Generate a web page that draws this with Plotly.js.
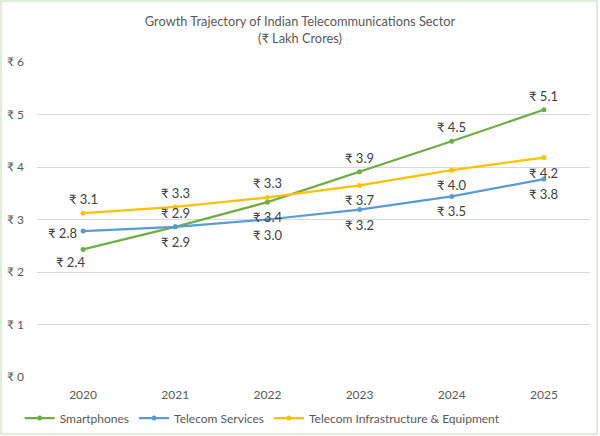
<!DOCTYPE html>
<html>
<head>
<meta charset="utf-8">
<script src="https://cdn.plot.ly/plotly-3.0.1.min.js"></script>
<style>html,body{margin:0;padding:0;background:#fff;}#chart{width:600px;height:436px;}</style>
</head>
<body>
<div id="chart"></div>
<script>
// ---- data ----
const years = ["2020", "2021", "2022", "2023", "2024", "2025"];
const smartphones = [2.43, 2.86, 3.33, 3.91, 4.49, 5.09];
const telecomServices = [2.78, 2.86, 3.00, 3.19, 3.44, 3.77];
const telecomInfra = [3.12, 3.24, 3.42, 3.65, 3.94, 4.18];
const smartphonesLabels = ["₹ 2.4", "₹ 2.9", "₹ 3.4", "₹ 3.9", "₹ 4.5", "₹ 5.1"];
const servicesLabels = ["₹ 2.8", "₹ 2.9", "₹ 3.0", "₹ 3.2", "₹ 3.5", "₹ 3.8"];
const infraLabels = ["₹ 3.1", "₹ 3.3", "₹ 3.3", "₹ 3.7", "₹ 4.0", "₹ 4.2"];
const yTickVals = [0, 1, 2, 3, 4, 5, 6];
const yTickText = ["₹ 0", "₹ 1", "₹ 2", "₹ 3", "₹ 4", "₹ 5", "₹ 6"];

// ---- label placement (Excel-style) ----
const smartPos = ["belowleft", "below", "below", "above", "above", "above"];
const servPos = ["left", "above", "below", "below", "below", "below"];
const infraPos = ["above", "above", "above", "below", "below", "below"];

const FONT = "Lato, 'Noto Sans', 'DejaVu Sans', sans-serif";
const GREEN = "#70AD47", BLUE = "#5B9BD5", GOLD = "#FFC000";

function series(name, y, color) {
  return {
    type: "scatter", mode: "lines+markers", name: name,
    x: years, y: y,
    line: {color: color, width: 2.25},
    marker: {color: color, size: 5}
  };
}
const shifts = {
  above: [0, 14], below: [0, -15], left: [-21, -2], belowleft: [-13, -13]
};
function labels(y, texts, pos) {
  // x given as category index so it is not read as a numeric position
  return y.map((v, i) => ({
    x: years.indexOf(years[i]), y: v, xref: "x", yref: "y", text: texts[i], showarrow: false,
    xshift: shifts[pos[i]][0], yshift: shifts[pos[i]][1],
    font: {family: FONT, size: 13, color: "#404040"}
  }));
}

const M = {l: 37, r: 10, t: 62, b: 59};
const W = 600, H = 436;
const pw = W - M.l - M.r, ph = H - M.t - M.b;

const layout = {
  width: W, height: H,
  margin: M,
  paper_bgcolor: "#ffffff", plot_bgcolor: "#ffffff",
  font: {family: FONT, size: 12, color: "#595959"},
  title: {
    text: "Growth Trajectory of Indian Telecommunications Sector<br>(₹ Lakh Crores)",
    font: {family: FONT, size: 12.8, color: "#595959"},
    x: 0.5, xanchor: "center", xref: "container",
    y: 0.94, yanchor: "middle", yref: "container"
  },
  xaxis: {
    type: "category", range: [-0.5, years.length - 0.5],
    showgrid: false, zeroline: false, showline: false,
    ticks: "", tickfont: {family: FONT, size: 12, color: "#595959"},
    ticklabelstandoff: 9, fixedrange: true
  },
  yaxis: {
    range: [0, 6], tickvals: yTickVals, ticktext: yTickText,
    showgrid: true, gridcolor: "#d9d9d9", gridwidth: 1, zeroline: false, showline: false,
    ticks: "", tickfont: {family: FONT, size: 12, color: "#595959"},
    ticklabelstandoff: 12, fixedrange: true
  },
  showlegend: true,
  legend: {
    orientation: "h", xref: "container", yref: "container",
    x: 0.437, xanchor: "center", y: 0.041, yanchor: "middle",
    font: {family: FONT, size: 12, color: "#595959"},
    itemwidth: 30, tracegroupgap: 0
  },
  annotations: [].concat(
    labels(smartphones, smartphonesLabels, smartPos),
    labels(telecomServices, servicesLabels, servPos),
    labels(telecomInfra, infraLabels, infraPos)
  ),
  shapes: [{
    type: "rect", xref: "paper", yref: "paper",
    x0: (1 - M.l) / pw, x1: (597 - M.l) / pw,
    y0: (H - M.b - 434) / ph, y1: (H - M.b - 1) / ph,
    line: {color: "#d9e6cf", width: 1.5}, layer: "below"
  }]
};

Plotly.newPlot("chart", [
  series("Smartphones", smartphones, GREEN),
  series("Telecom Services", telecomServices, BLUE),
  series("Telecom Infrastructure & Equipment", telecomInfra, GOLD)
], layout, {staticPlot: true, displayModeBar: false});
</script>
</body>
</html>
